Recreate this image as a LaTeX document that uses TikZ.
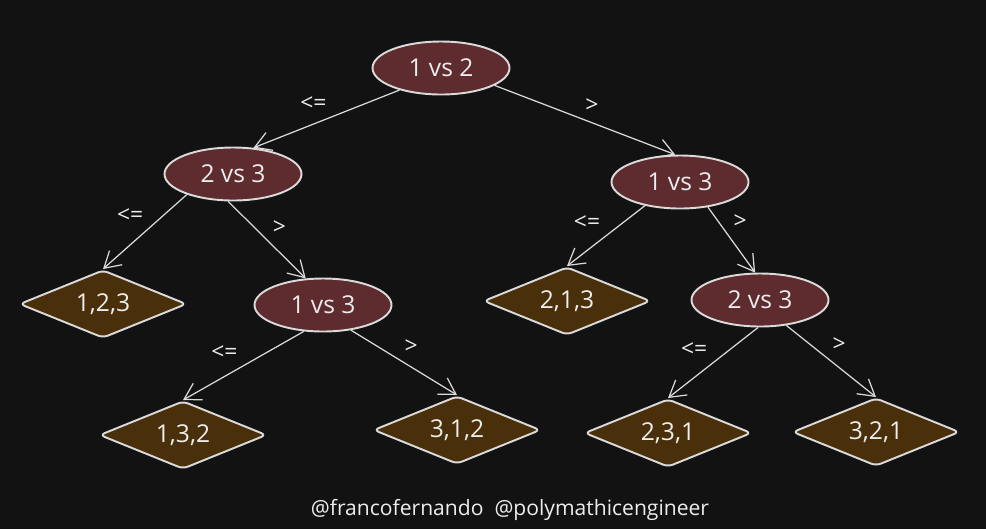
\documentclass[tikz,border=0pt]{standalone}
\usepackage{fontspec}
\setmainfont{Open Sans}
\usepackage{xcolor}
\usepackage{tikz}
\usetikzlibrary{arrows.meta,shapes.geometric}
\usetikzlibrary{positioning}

\definecolor{bgcol}{HTML}{121212}
\definecolor{cmpfill}{HTML}{5E2B2F}
\definecolor{leaffill}{HTML}{4A2F0B}
\definecolor{linecol}{HTML}{DADADA}
\definecolor{txtcol}{HTML}{EDEDED}

\begin{document}
\begin{tikzpicture}[->,>={Straight Barb[length=3.2mm,width=3.8mm]},auto,on grid,node distance=2.5cm]
	\tikzstyle{cmp}=[draw=linecol, line width=1.1pt, ellipse, fill=cmpfill, minimum width=2.74cm, minimum height=1.06cm, inner sep=0pt, text=txtcol, font=\fontsize{14}{16}\selectfont]
	\tikzstyle{leaf}=[draw=linecol, line width=1.1pt, diamond, shape aspect=2.45, fill=leaffill, minimum width=3.34cm, minimum height=1.36cm, inner sep=0pt, rounded corners=3pt, text=txtcol, font=\fontsize{14}{16}\selectfont]
	\tikzstyle{conn}=[draw=linecol, line width=0.7pt]
	\tikzstyle{lbl}=[text=txtcol, inner sep=3pt, font=\fontsize{13}{15}\selectfont]
	\fill[bgcol] (0,0) rectangle (19.72,-10.58);
	\node[cmp]	(A) at (8.82,-1.36) {1 vs 2};
	\node[cmp]	(B) [below left=2.12cm and 4.16cm of A] {2 vs 3};
	\node[cmp]	(C) [below right=2.28cm and 4.78cm of A] {1 vs 3};
	\node[leaf]	(D) [below left=2.6cm and 2.6cm of B] {1,2,3};
	\node[cmp]	(E) [below right=2.62cm and 1.8cm of B] {1 vs 3};
	\node[leaf]	(F) [below left=2.38cm and 2.26cm of C] {2,1,3};
	\node[cmp]	(G) [below right=2.36cm and 1.6cm of C] {2 vs 3};
	\node[leaf]	(H) [below left=2.6cm and 2.8cm of E] {1,3,2};
	\node[leaf]	(I) [below right=2.5cm and 2.68cm of E] {3,1,2};
	\node[leaf]	(J) [below left=2.66cm and 1.84cm of G] {2,3,1};
	\node[leaf]	(K) [below right=2.64cm and 2.32cm of G] {3,2,1};
	\node[text=txtcol, font=\fontsize{12}{14}\selectfont] (credit) at (10.2,-10.2) {@francofernando\ \ @polymathicengineer};
	\path
		(A.208) edge [conn] node[lbl, swap, pos=0.46] {<=} (B.52)
		(A.342) edge [conn] node[lbl, pos=0.47] {>} (C.100)
		(B.204) edge [conn] node[lbl, swap, pos=0.45] {<=} (D.north)
		(B.260) edge [conn] node[lbl] {>} (E.123)
		(C.214) edge [conn] node[lbl, swap] {<=} (F.north)
		(C.318) edge [conn] node[lbl, pos=0.42] {>} (G.100)
		(E.234) edge [conn] node[lbl, swap] {<=} (H.north)
		(E.318) edge [conn] node[lbl, pos=0.45] {>} (I.north)
		(G.266) edge [conn] node[lbl, swap] {<=} (J.north)
		(G.316) edge [conn] node[lbl, pos=0.45] {>} (K.north);
\end{tikzpicture}
\end{document}
